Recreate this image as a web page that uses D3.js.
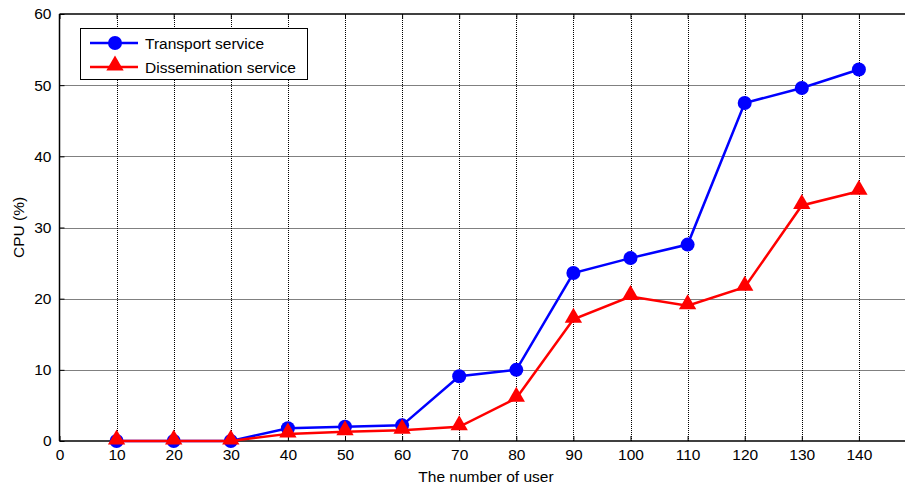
<!DOCTYPE html>
<html><head><meta charset="utf-8">
<script src="https://cdn.jsdelivr.net/npm/d3@7"></script>
<style>body{margin:0;background:#fff;} svg{display:block;font-family:"Liberation Sans",Arial,sans-serif;}</style>
</head><body>
<svg id="c" width="905" height="489"></svg>
<script>
const users = [10,20,30,40,50,60,70,80,90,100,110,120,130,140];
const transport = [0,0,0,1.8,2.0,2.2,9.1,10.0,23.6,25.7,27.6,47.5,49.6,52.2];
const dissemination = [0,0,0,1.0,1.3,1.5,2.0,6.0,17.1,20.3,19.0,21.6,33.1,35.1];
const xTicks = [0,10,20,30,40,50,60,70,80,90,100,110,120,130,140];
const yTicks = [0,10,20,30,40,50,60];
const seriesNames = ["Transport service","Dissemination service"];

const FS = 15.5;
const svg = d3.select("#c");
const x = d3.scaleLinear().domain([0,150]).range([59.5,916]);
const y = d3.scaleLinear().domain([0,60]).range([441,14]);
const px = v => Math.round(v)+0.5;

// grid
const g = svg.append("g");
g.selectAll(".gx").data(xTicks.filter(d=>d>0)).enter().append("line")
 .attr("x1",d=>px(x(d))).attr("x2",d=>px(x(d))).attr("y1",y(0)).attr("y2",y(60))
 .attr("stroke","#000").attr("stroke-width",1).attr("stroke-dasharray","1,1");
g.selectAll(".gy").data(yTicks.filter(d=>d>0&&d<60)).enter().append("line")
 .attr("x1",x(0)).attr("x2",905).attr("y1",d=>px(y(d))).attr("y2",d=>px(y(d)))
 .attr("stroke","#000").attr("stroke-width",1).attr("stroke-dasharray","1,1");

// axes
const xAxis = d3.axisBottom(x).tickValues(xTicks).tickSize(-5).tickPadding(8);
const xAxisTop = d3.axisTop(x).tickValues(xTicks).tickSize(-5).tickFormat("");
const yAxis = d3.axisLeft(y).tickValues(yTicks).tickSize(-5).tickPadding(8);
function style(sel){ sel.select(".domain").attr("stroke","#000").attr("stroke-width",1.5);
  sel.selectAll(".tick line").attr("stroke","#000");
  sel.selectAll("text").attr("font-size",FS).attr("fill","#000").attr("font-family","Liberation Sans, Arial, sans-serif");}
svg.append("g").attr("transform",`translate(0,${y(0)})`).call(xAxis).call(style)
  .select(".domain").attr("d",`M${x(0)},0H905`);
svg.append("g").attr("transform",`translate(0,${y(60)})`).call(xAxisTop).call(style)
  .select(".domain").attr("d",`M${x(0)},0H905`);
svg.append("g").attr("transform",`translate(${x(0)},0)`).call(yAxis).call(style)
  .select(".domain").attr("d",`M0,${y(0)}V${y(60)}`);

// labels
svg.append("text").attr("x",486).attr("y",482).attr("text-anchor","middle")
  .attr("font-size",FS).text("The number of user");
svg.append("text").attr("transform",`translate(24,${y(30)}) rotate(-90)`).attr("text-anchor","middle")
  .attr("font-size",FS).text("CPU (%)");

// lines
const line = d3.line().x((d,i)=>x(users[i])).y(d=>y(d));
const tri = d3.symbol().type(d3.symbolTriangle).size(130);
svg.append("path").datum(transport).attr("d",line).attr("fill","none").attr("stroke","#0000ff").attr("stroke-width",2.5);
svg.selectAll(".pt").data(transport).enter().append("circle")
  .attr("cx",(d,i)=>x(users[i])).attr("cy",d=>y(d)).attr("r",7).attr("fill","#0000ff");
svg.append("path").datum(dissemination).attr("d",line).attr("fill","none").attr("stroke","#ff0000").attr("stroke-width",2.5);
svg.selectAll(".tr").data(dissemination).enter().append("path")
  .attr("d",tri).attr("transform",(d,i)=>`translate(${x(users[i])},${y(d)-1.5})`).attr("fill","#ff0000");

// legend
const lg = svg.append("g");
lg.append("rect").attr("x",80.5).attr("y",28.5).attr("width",227).attr("height",51)
  .attr("fill","#fff").attr("stroke","#000").attr("stroke-width",1);
const colors = ["#0000ff","#ff0000"];
seriesNames.forEach((n,i)=>{
  const yy = 43 + i*24;
  lg.append("line").attr("x1",90).attr("x2",138).attr("y1",yy).attr("y2",yy).attr("stroke",colors[i]).attr("stroke-width",2.5);
  if(i===0) lg.append("circle").attr("cx",115).attr("cy",yy).attr("r",7).attr("fill",colors[i]);
  else lg.append("path").attr("d",tri).attr("transform",`translate(115,${yy-1.5})`).attr("fill",colors[i]);
  lg.append("text").attr("x",145).attr("y",yy+5.5).attr("font-size",FS).text(n);
});
</script>
</body></html>
